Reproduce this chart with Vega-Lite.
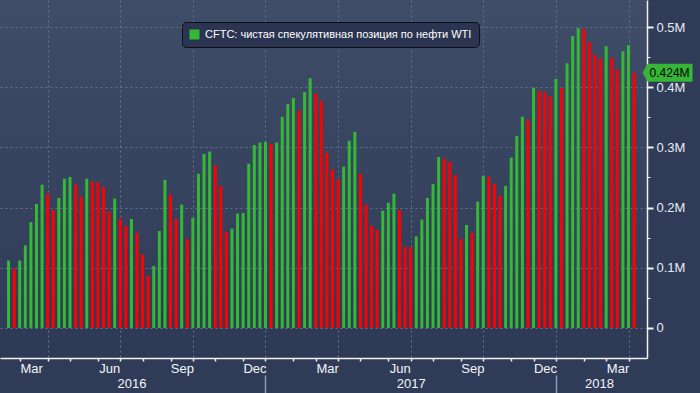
{
  "$schema": "https://vega.github.io/schema/vega-lite/v6.json",
  "width": 647,
  "height": 358,
  "autosize": {"type": "none"},
  "padding": {"left": 0, "top": 0, "right": 53, "bottom": 35},
  "background": "#303b58",
  "config": {
    "font": "Liberation Sans",
    "view": {
      "stroke": null,
      "fill": {"gradient": "linear", "x1": 0, "y1": 0, "x2": 0, "y2": 1,
        "stops": [{"offset": 0, "color": "#3f4d69"}, {"offset": 1, "color": "#2e3955"}]}
    }
  },
  "data": {"values": [
    {"date": "2016-02-16", "value": 0.112, "dir": "up"},
    {"date": "2016-02-23", "value": 0.098, "dir": "down"},
    {"date": "2016-03-01", "value": 0.112, "dir": "up"},
    {"date": "2016-03-08", "value": 0.137, "dir": "up"},
    {"date": "2016-03-15", "value": 0.176, "dir": "up"},
    {"date": "2016-03-22", "value": 0.206, "dir": "up"},
    {"date": "2016-03-29", "value": 0.238, "dir": "up"},
    {"date": "2016-04-05", "value": 0.223, "dir": "down"},
    {"date": "2016-04-12", "value": 0.196, "dir": "down"},
    {"date": "2016-04-19", "value": 0.216, "dir": "up"},
    {"date": "2016-04-26", "value": 0.248, "dir": "up"},
    {"date": "2016-05-03", "value": 0.251, "dir": "up"},
    {"date": "2016-05-10", "value": 0.238, "dir": "down"},
    {"date": "2016-05-17", "value": 0.218, "dir": "down"},
    {"date": "2016-05-24", "value": 0.248, "dir": "up"},
    {"date": "2016-05-31", "value": 0.243, "dir": "down"},
    {"date": "2016-06-07", "value": 0.242, "dir": "down"},
    {"date": "2016-06-14", "value": 0.234, "dir": "down"},
    {"date": "2016-06-21", "value": 0.193, "dir": "down"},
    {"date": "2016-06-28", "value": 0.215, "dir": "up"},
    {"date": "2016-07-05", "value": 0.181, "dir": "down"},
    {"date": "2016-07-12", "value": 0.170, "dir": "down"},
    {"date": "2016-07-19", "value": 0.181, "dir": "up"},
    {"date": "2016-07-26", "value": 0.158, "dir": "down"},
    {"date": "2016-08-02", "value": 0.122, "dir": "down"},
    {"date": "2016-08-09", "value": 0.087, "dir": "down"},
    {"date": "2016-08-16", "value": 0.103, "dir": "up"},
    {"date": "2016-08-23", "value": 0.161, "dir": "up"},
    {"date": "2016-08-30", "value": 0.246, "dir": "up"},
    {"date": "2016-09-06", "value": 0.221, "dir": "down"},
    {"date": "2016-09-13", "value": 0.181, "dir": "down"},
    {"date": "2016-09-20", "value": 0.205, "dir": "up"},
    {"date": "2016-09-27", "value": 0.148, "dir": "down"},
    {"date": "2016-10-04", "value": 0.183, "dir": "up"},
    {"date": "2016-10-11", "value": 0.256, "dir": "up"},
    {"date": "2016-10-18", "value": 0.289, "dir": "up"},
    {"date": "2016-10-25", "value": 0.293, "dir": "up"},
    {"date": "2016-11-01", "value": 0.270, "dir": "down"},
    {"date": "2016-11-08", "value": 0.236, "dir": "down"},
    {"date": "2016-11-15", "value": 0.160, "dir": "down"},
    {"date": "2016-11-22", "value": 0.165, "dir": "up"},
    {"date": "2016-11-29", "value": 0.190, "dir": "up"},
    {"date": "2016-12-06", "value": 0.191, "dir": "up"},
    {"date": "2016-12-13", "value": 0.273, "dir": "up"},
    {"date": "2016-12-20", "value": 0.304, "dir": "up"},
    {"date": "2016-12-27", "value": 0.308, "dir": "up"},
    {"date": "2017-01-03", "value": 0.309, "dir": "up"},
    {"date": "2017-01-10", "value": 0.306, "dir": "down"},
    {"date": "2017-01-17", "value": 0.308, "dir": "up"},
    {"date": "2017-01-24", "value": 0.351, "dir": "up"},
    {"date": "2017-01-31", "value": 0.372, "dir": "up"},
    {"date": "2017-02-07", "value": 0.382, "dir": "up"},
    {"date": "2017-02-14", "value": 0.361, "dir": "down"},
    {"date": "2017-02-21", "value": 0.392, "dir": "up"},
    {"date": "2017-02-28", "value": 0.415, "dir": "up"},
    {"date": "2017-03-07", "value": 0.389, "dir": "down"},
    {"date": "2017-03-14", "value": 0.377, "dir": "down"},
    {"date": "2017-03-21", "value": 0.291, "dir": "down"},
    {"date": "2017-03-28", "value": 0.263, "dir": "down"},
    {"date": "2017-04-04", "value": 0.247, "dir": "down"},
    {"date": "2017-04-11", "value": 0.268, "dir": "up"},
    {"date": "2017-04-18", "value": 0.311, "dir": "up"},
    {"date": "2017-04-25", "value": 0.326, "dir": "up"},
    {"date": "2017-05-02", "value": 0.256, "dir": "down"},
    {"date": "2017-05-09", "value": 0.205, "dir": "down"},
    {"date": "2017-05-16", "value": 0.170, "dir": "down"},
    {"date": "2017-05-23", "value": 0.163, "dir": "down"},
    {"date": "2017-05-30", "value": 0.195, "dir": "up"},
    {"date": "2017-06-06", "value": 0.208, "dir": "up"},
    {"date": "2017-06-13", "value": 0.223, "dir": "up"},
    {"date": "2017-06-20", "value": 0.196, "dir": "down"},
    {"date": "2017-06-27", "value": 0.135, "dir": "down"},
    {"date": "2017-07-04", "value": 0.134, "dir": "down"},
    {"date": "2017-07-11", "value": 0.152, "dir": "up"},
    {"date": "2017-07-18", "value": 0.180, "dir": "up"},
    {"date": "2017-07-25", "value": 0.216, "dir": "up"},
    {"date": "2017-08-01", "value": 0.239, "dir": "up"},
    {"date": "2017-08-08", "value": 0.284, "dir": "up"},
    {"date": "2017-08-15", "value": 0.281, "dir": "down"},
    {"date": "2017-08-22", "value": 0.276, "dir": "down"},
    {"date": "2017-08-29", "value": 0.254, "dir": "down"},
    {"date": "2017-09-05", "value": 0.148, "dir": "down"},
    {"date": "2017-09-12", "value": 0.171, "dir": "up"},
    {"date": "2017-09-19", "value": 0.158, "dir": "down"},
    {"date": "2017-09-26", "value": 0.210, "dir": "up"},
    {"date": "2017-10-03", "value": 0.253, "dir": "up"},
    {"date": "2017-10-10", "value": 0.251, "dir": "down"},
    {"date": "2017-10-17", "value": 0.239, "dir": "down"},
    {"date": "2017-10-24", "value": 0.220, "dir": "down"},
    {"date": "2017-10-31", "value": 0.236, "dir": "up"},
    {"date": "2017-11-07", "value": 0.283, "dir": "up"},
    {"date": "2017-11-14", "value": 0.319, "dir": "up"},
    {"date": "2017-11-21", "value": 0.351, "dir": "up"},
    {"date": "2017-11-28", "value": 0.346, "dir": "down"},
    {"date": "2017-12-05", "value": 0.399, "dir": "up"},
    {"date": "2017-12-12", "value": 0.394, "dir": "down"},
    {"date": "2017-12-19", "value": 0.392, "dir": "down"},
    {"date": "2017-12-26", "value": 0.385, "dir": "down"},
    {"date": "2018-01-02", "value": 0.414, "dir": "up"},
    {"date": "2018-01-09", "value": 0.399, "dir": "down"},
    {"date": "2018-01-16", "value": 0.440, "dir": "up"},
    {"date": "2018-01-23", "value": 0.485, "dir": "up"},
    {"date": "2018-01-30", "value": 0.498, "dir": "up"},
    {"date": "2018-02-06", "value": 0.497, "dir": "down"},
    {"date": "2018-02-13", "value": 0.475, "dir": "down"},
    {"date": "2018-02-20", "value": 0.454, "dir": "down"},
    {"date": "2018-02-27", "value": 0.447, "dir": "down"},
    {"date": "2018-03-06", "value": 0.468, "dir": "up"},
    {"date": "2018-03-13", "value": 0.449, "dir": "down"},
    {"date": "2018-03-20", "value": 0.429, "dir": "down"},
    {"date": "2018-03-27", "value": 0.460, "dir": "up"},
    {"date": "2018-04-03", "value": 0.470, "dir": "up"},
    {"date": "2018-04-10", "value": 0.424, "dir": "down"}
  ]},
  "layer": [
    {
      "mark": {"type": "bar", "width": 3},
      "encoding": {
        "x": {"field": "date", "type": "temporal",
          "scale": {"type": "utc", "nice": false, "domain": [
            {"year": 2016, "month": "feb", "date": 11, "hours": 13, "utc": true},
            {"year": 2018, "month": "apr", "date": 19, "hours": 22, "utc": true}]},
          "axis": {
            "orient": "bottom", "title": null, "grid": false,
            "values": [
              {"year": 2016, "month": "mar", "date": 1, "utc": true},
              {"year": 2016, "month": "apr", "date": 5, "utc": true},
              {"year": 2016, "month": "may", "date": 3, "utc": true},
              {"year": 2016, "month": "jun", "date": 7, "utc": true},
              {"year": 2016, "month": "jul", "date": 5, "utc": true},
              {"year": 2016, "month": "aug", "date": 2, "utc": true},
              {"year": 2016, "month": "sep", "date": 6, "utc": true},
              {"year": 2016, "month": "oct", "date": 4, "utc": true},
              {"year": 2016, "month": "nov", "date": 1, "utc": true},
              {"year": 2016, "month": "dec", "date": 6, "utc": true},
              {"year": 2017, "month": "jan", "date": 3, "utc": true},
              {"year": 2017, "month": "feb", "date": 7, "utc": true},
              {"year": 2017, "month": "mar", "date": 7, "utc": true},
              {"year": 2017, "month": "apr", "date": 4, "utc": true},
              {"year": 2017, "month": "may", "date": 2, "utc": true},
              {"year": 2017, "month": "jun", "date": 6, "utc": true},
              {"year": 2017, "month": "jul", "date": 4, "utc": true},
              {"year": 2017, "month": "aug", "date": 1, "utc": true},
              {"year": 2017, "month": "sep", "date": 5, "utc": true},
              {"year": 2017, "month": "oct", "date": 3, "utc": true},
              {"year": 2017, "month": "nov", "date": 7, "utc": true},
              {"year": 2017, "month": "dec", "date": 5, "utc": true},
              {"year": 2018, "month": "jan", "date": 2, "utc": true},
              {"year": 2018, "month": "feb", "date": 6, "utc": true},
              {"year": 2018, "month": "mar", "date": 6, "utc": true},
              {"year": 2018, "month": "apr", "date": 3, "utc": true}],
            "domain": true, "domainColor": "#f2f2f2", "domainWidth": 1.5,
            "ticks": true, "tickColor": "#f2f2f2", "tickSize": 3, "tickWidth": 1.5,
            "labelExpr": "indexof(['Mar','Jun','Sep','Dec'], utcFormat(datum.value, '%b')) >= 0 ? utcFormat(datum.value, '%b') : ''",
            "labelOffset": 11.4, "labelOverlap": false, "labelPadding": 1,
            "labelColor": "#f4f6fa", "labelFontSize": 13, "labelFlush": false
          }
        },
        "y": {"field": "value", "type": "quantitative",
          "scale": {"domain": [-0.05, 0.545], "nice": false, "zero": false},
          "axis": {
            "orient": "right", "title": null,
            "values": [0, 0.1, 0.2, 0.3, 0.4, 0.5],
            "domain": true, "domainColor": "#f2f2f2", "domainWidth": 1.5,
            "ticks": true, "tickColor": "#f2f2f2", "tickSize": 6, "tickWidth": 2,
            "labelExpr": "datum.value == 0 ? '0' : format(datum.value, '.1f') + 'M'",
            "labelPadding": 3, "labelColor": "#e6ecf5", "labelFontSize": 13,
            "grid": true, "gridColor": "#62728f", "gridDash": [2, 3], "gridWidth": 1
          }
        },
        "color": {"field": "dir", "type": "nominal",
          "scale": {"domain": ["up", "down"], "range": ["#34b934", "#ff0000"]},
          "legend": {
            "orient": "none", "legendX": 182, "legendY": 22,
            "title": null, "values": ["up"],
            "labelExpr": "'CFTC: чистая спекулятивная позиция по нефти WTI'",
            "labelLimit": 500, "labelColor": "#ffffff", "labelFontSize": 11,
            "labelOffset": 5,
            "symbolType": "square", "symbolSize": 100, "symbolStrokeWidth": 0,
            "padding": 7, "fillColor": "#2b3551", "strokeColor": "#0c0f16",
            "cornerRadius": 4
          }
        }
      }
    },
    {
      "mark": {"type": "bar", "width": 3, "opacity": 0},
      "encoding": {
        "x": {"field": "date", "type": "temporal",
          "scale": {"type": "utc", "nice": false, "domain": [
            {"year": 2016, "month": "feb", "date": 11, "hours": 13, "utc": true},
            {"year": 2018, "month": "apr", "date": 19, "hours": 22, "utc": true}]},
          "axis": {
            "orient": "bottom", "title": null, "domain": false, "ticks": false, "labels": false,
            "values": [
              {"year": 2016, "month": "apr", "date": 5, "utc": true},
              {"year": 2016, "month": "jul", "date": 5, "utc": true},
              {"year": 2016, "month": "oct", "date": 4, "utc": true},
              {"year": 2017, "month": "jan", "date": 3, "utc": true},
              {"year": 2017, "month": "apr", "date": 4, "utc": true},
              {"year": 2017, "month": "jul", "date": 4, "utc": true},
              {"year": 2017, "month": "oct", "date": 3, "utc": true},
              {"year": 2018, "month": "jan", "date": 2, "utc": true},
              {"year": 2018, "month": "apr", "date": 3, "utc": true}],
            "grid": true, "gridColor": "#62728f", "gridDash": [2, 3], "gridWidth": 1
          }
        },
        "y": {"field": "value", "type": "quantitative",
          "scale": {"domain": [-0.05, 0.545], "nice": false, "zero": false},
          "axis": {
            "orient": "right", "title": null, "domain": false, "grid": false,
            "labels": false, "values": [0.05, 0.15, 0.25, 0.35, 0.45],
            "ticks": true, "tickColor": "#f2f2f2", "tickSize": 3, "tickWidth": 1
          }
        }
      }
    },
    {
      "mark": {"type": "bar", "width": 3, "opacity": 0},
      "encoding": {
        "x": {"field": "date", "type": "temporal",
          "scale": {"type": "utc", "nice": false, "domain": [
            {"year": 2016, "month": "feb", "date": 11, "hours": 13, "utc": true},
            {"year": 2018, "month": "apr", "date": 19, "hours": 22, "utc": true}]},
          "axis": {
            "orient": "bottom", "title": null, "domain": false, "ticks": false, "tickSize": 0, "grid": false,
            "values": [
              {"year": 2016, "month": "jul", "date": 19, "utc": true},
              {"year": 2017, "month": "jul", "date": 4, "utc": true},
              {"year": 2018, "month": "feb", "date": 25, "utc": true}],
            "labelExpr": "utcFormat(datum.value, '%Y')",
            "labelPadding": 19, "labelOverlap": false, "labelFlush": false,
            "labelColor": "#f4f6fa", "labelFontSize": 13
          }
        },
        "y": {"field": "value", "type": "quantitative",
          "scale": {"domain": [-0.05, 0.545], "nice": false, "zero": false},
          "axis": null
        }
      }
    },
    {
      "mark": {"type": "bar", "width": 3, "opacity": 0},
      "encoding": {
        "x": {"field": "date", "type": "temporal",
          "scale": {"type": "utc", "nice": false, "domain": [
            {"year": 2016, "month": "feb", "date": 11, "hours": 13, "utc": true},
            {"year": 2018, "month": "apr", "date": 19, "hours": 22, "utc": true}]},
          "axis": {
            "orient": "bottom", "title": null, "domain": false, "labels": false, "grid": false,
            "values": [
              {"year": 2017, "month": "jan", "date": 3, "utc": true},
              {"year": 2018, "month": "jan", "date": 2, "utc": true}],
            "ticks": true, "tickSize": 18, "tickColor": "#8e99ad", "tickWidth": 1.5,
            "offset": 17
          }
        },
        "y": {"field": "value", "type": "quantitative",
          "scale": {"domain": [-0.05, 0.545], "nice": false, "zero": false},
          "axis": null
        }
      }
    },
    {
      "transform": [{"filter": "time(datum.date) == utc(2018, 3, 10)"}],
      "mark": {"type": "point", "filled": true, "opacity": 1, "color": "#36b536",
        "shape": "M -1 0 L -0.8 -0.36 L 1 -0.36 L 1 0.36 L -0.8 0.36 Z",
        "size": 2500, "xOffset": 33.5, "strokeWidth": 0},
      "encoding": {
        "x": {"field": "date", "type": "temporal", "axis": null,
          "scale": {"type": "utc", "nice": false, "domain": [
            {"year": 2016, "month": "feb", "date": 11, "hours": 13, "utc": true},
            {"year": 2018, "month": "apr", "date": 19, "hours": 22, "utc": true}]}},
        "y": {"field": "value", "type": "quantitative", "axis": null,
          "scale": {"domain": [-0.05, 0.545], "nice": false, "zero": false}}
      }
    },
    {
      "transform": [
        {"filter": "time(datum.date) == utc(2018, 3, 10)"},
        {"calculate": "format(datum.value, '.3f') + 'M'", "as": "label"}
      ],
      "mark": {"type": "text", "color": "#000000", "fontSize": 12, "dx": 35.5, "align": "center", "baseline": "middle"},
      "encoding": {
        "x": {"field": "date", "type": "temporal", "axis": null,
          "scale": {"type": "utc", "nice": false, "domain": [
            {"year": 2016, "month": "feb", "date": 11, "hours": 13, "utc": true},
            {"year": 2018, "month": "apr", "date": 19, "hours": 22, "utc": true}]}},
        "y": {"field": "value", "type": "quantitative", "axis": null,
          "scale": {"domain": [-0.05, 0.545], "nice": false, "zero": false}},
        "text": {"field": "label"}
      }
    }
  ],
  "resolve": {"axis": {"x": "independent", "y": "independent"}}
}
